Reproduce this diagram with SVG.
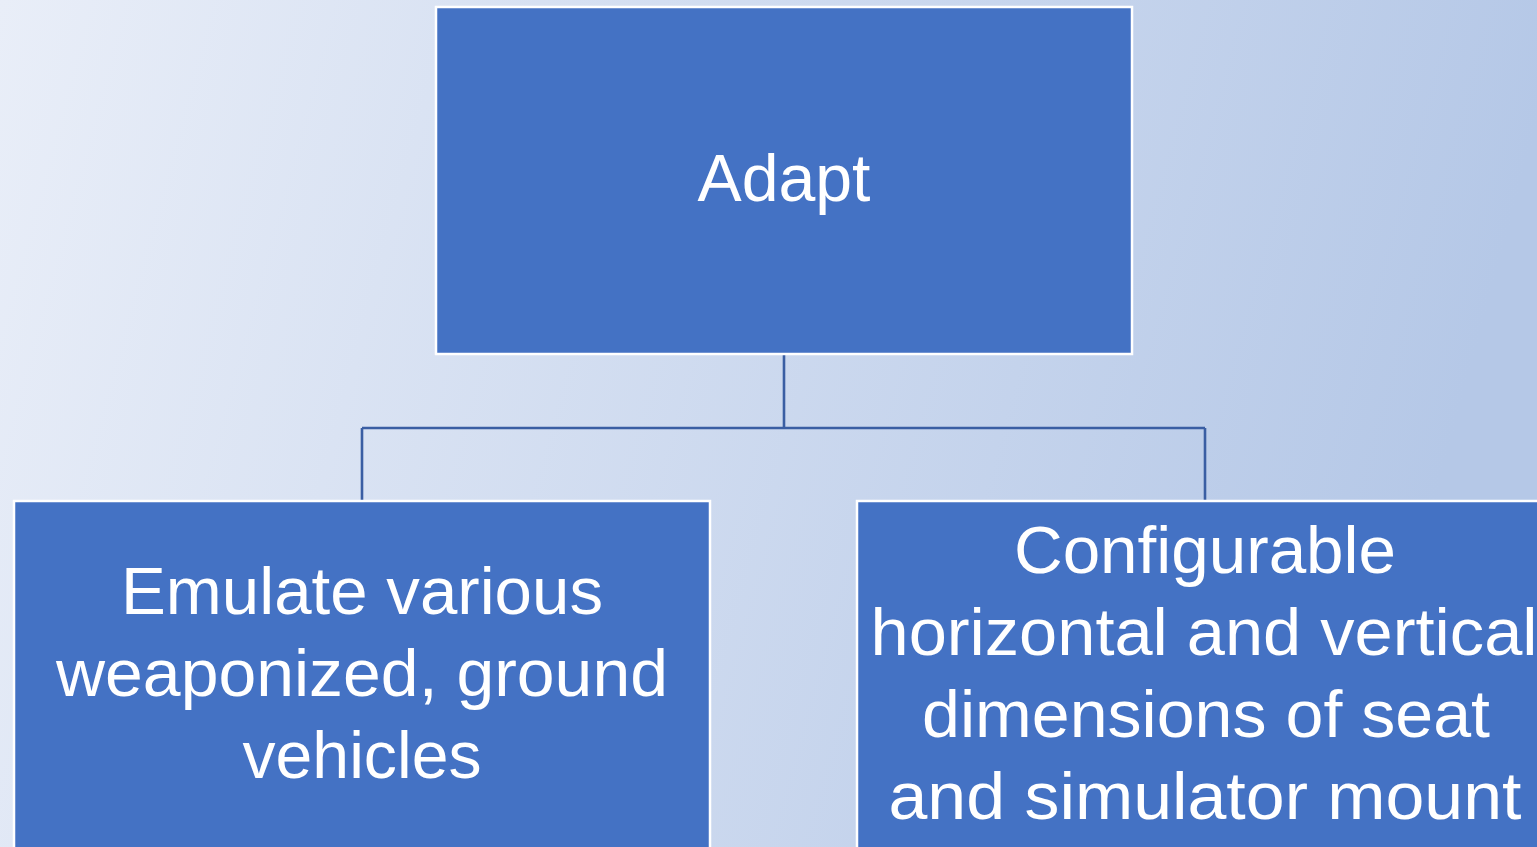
<svg xmlns="http://www.w3.org/2000/svg" width="1537" height="847" viewBox="0 0 1537 847">
  <defs>
    <linearGradient id="bg" x1="0" y1="0" x2="1" y2="0.15">
      <stop offset="0" stop-color="#e9eef8"/>
      <stop offset="1" stop-color="#b5c8e7"/>
    </linearGradient>
  </defs>
  <style>
    .box { fill: #4472c4; stroke: #ffffff; stroke-width: 2.5; }
    .lbl { fill: #ffffff; font-family: "Liberation Sans", Arial, sans-serif; font-size: 67px; text-anchor: middle; }
    .conn { fill: none; stroke: #3a5ea3; stroke-width: 2.6; }
  </style>
  <rect x="0" y="0" width="1537" height="847" fill="url(#bg)"/>
  <g id="connectors">
    <path class="conn" d="M784 355 V428 M362 428 H1205 M362 428 V500 M1205 428 V500"/>
  </g>
  <g id="node-adapt">
    <rect class="box" x="436" y="7" width="696" height="347"/>
    <text class="lbl" x="784" y="201" textLength="173" lengthAdjust="spacingAndGlyphs">Adapt</text>
  </g>
  <g id="node-emulate">
    <rect class="box" x="14" y="501" width="696" height="360"/>
    <text class="lbl" x="362" y="614" textLength="482" lengthAdjust="spacingAndGlyphs">Emulate various</text>
    <text class="lbl" x="362" y="696" textLength="612" lengthAdjust="spacingAndGlyphs">weaponized, ground</text>
    <text class="lbl" x="362" y="778" textLength="239" lengthAdjust="spacingAndGlyphs">vehicles</text>
  </g>
  <g id="node-configurable">
    <rect class="box" x="857" y="501" width="696" height="360"/>
    <text class="lbl" x="1205" y="573" textLength="382" lengthAdjust="spacingAndGlyphs">Configurable</text>
    <text class="lbl" x="1204" y="655" textLength="667" lengthAdjust="spacingAndGlyphs">horizontal and vertical</text>
    <text class="lbl" x="1206" y="737" textLength="568" lengthAdjust="spacingAndGlyphs">dimensions of seat</text>
    <text class="lbl" x="1205" y="819" textLength="633" lengthAdjust="spacingAndGlyphs">and simulator mount</text>
  </g>
</svg>
